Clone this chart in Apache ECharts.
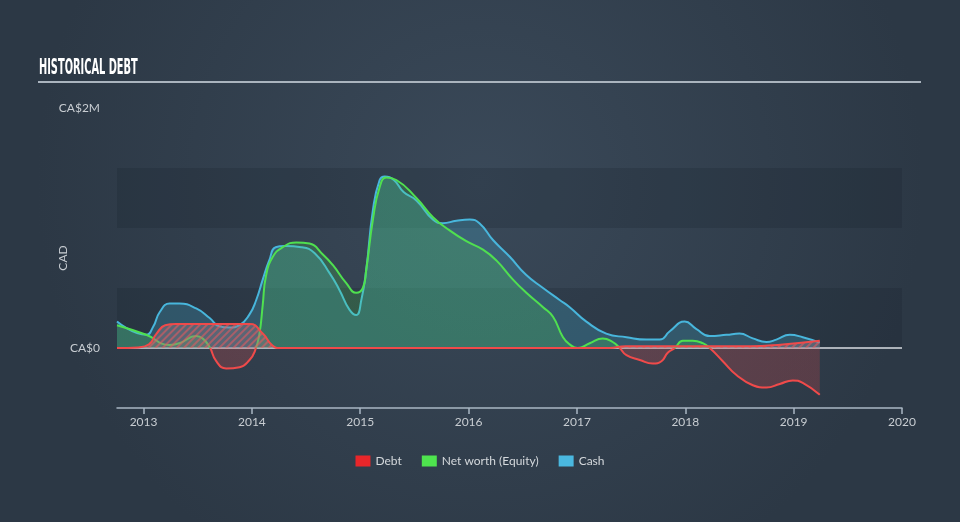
<!DOCTYPE html>
<html>
<head>
<meta charset="utf-8">
<script src="https://cdn.jsdelivr.net/npm/echarts@6/dist/echarts.min.js"></script>
<style>html,body{margin:0;padding:0;background:#313e4c;}#c{width:960px;height:522px;}</style>
</head>
<body>
<div id="c"></div>
<script>
// values in CA$ millions, x in decimal years
const yearTicks = [2013, 2014, 2015, 2016, 2017, 2018, 2019, 2020];
const seriesNames = ['Debt', 'Net worth (Equity)', 'Cash'];

const debtX = [2012.755, 2012.95, 2013.05, 2013.12, 2013.2, 2013.3, 2013.98, 2014.1, 2014.19, 2014.26, 2017.3, 2017.45, 2018.6, 2018.9, 2019.241];
const debtY = [0, 0.005, 0.03, 0.12, 0.19, 0.2, 0.2, 0.12, 0.02, 0, 0, 0.015, 0.015, 0.03, 0.06];

const equityX = [2012.755, 2013.025, 2013.24, 2013.332, 2013.486, 2013.545, 2013.609, 2013.671, 2013.763, 2013.886, 2013.978, 2014.03, 2014.07, 2014.10, 2014.13, 2014.193, 2014.285, 2014.41, 2014.532, 2014.655, 2014.748, 2014.871, 2014.963, 2015.024, 2015.055, 2015.117, 2015.179, 2015.24, 2015.333, 2015.518, 2015.671, 2015.825, 2015.979, 2016.133, 2016.256, 2016.41, 2016.533, 2016.687, 2016.779, 2016.871, 2016.933, 2017.007, 2017.118, 2017.238, 2017.33, 2017.395, 2017.457, 2017.58, 2017.7, 2017.78, 2017.838, 2017.903, 2017.977, 2018.069, 2018.161, 2018.226, 2018.346, 2018.472, 2018.623, 2018.749, 2018.872, 2018.992, 2019.084, 2019.241];
const equityY = [0.19, 0.11, 0.025, 0.04, 0.10, 0.08, 0.01, -0.11, -0.17, -0.16, -0.10, -0.02, 0.12, 0.36, 0.60, 0.76, 0.84, 0.88, 0.87, 0.78, 0.69, 0.54, 0.46, 0.50, 0.65, 1.07, 1.34, 1.42, 1.40, 1.25, 1.09, 0.98, 0.89, 0.82, 0.73, 0.57, 0.46, 0.34, 0.26, 0.09, 0.03, 0.0, 0.04, 0.08, 0.05, 0.0, -0.06, -0.10, -0.13, -0.11, -0.04, 0.0, 0.06, 0.06, 0.04, 0.0, -0.11, -0.225, -0.31, -0.33, -0.30, -0.27, -0.29, -0.39];

const cashX = [2012.755, 2013.025, 2013.09, 2013.15, 2013.24, 2013.33, 2013.486, 2013.61, 2013.70, 2013.79, 2013.886, 2013.978, 2014.04, 2014.10, 2014.16, 2014.22, 2014.31, 2014.456, 2014.58, 2014.72, 2014.81, 2014.90, 2014.963, 2015.01, 2015.055, 2015.117, 2015.179, 2015.225, 2015.31, 2015.40, 2015.518, 2015.67, 2015.76, 2015.887, 2016.01, 2016.10, 2016.225, 2016.38, 2016.53, 2016.687, 2016.84, 2016.933, 2017.087, 2017.27, 2017.457, 2017.64, 2017.765, 2017.857, 2017.995, 2018.10, 2018.226, 2018.38, 2018.50, 2018.623, 2018.749, 2018.84, 2018.964, 2019.084, 2019.241];
const cashY = [0.22, 0.11, 0.18, 0.30, 0.37, 0.37, 0.33, 0.25, 0.18, 0.17, 0.19, 0.28, 0.40, 0.57, 0.73, 0.84, 0.85, 0.84, 0.79, 0.62, 0.48, 0.32, 0.275, 0.40, 0.65, 1.15, 1.40, 1.43, 1.40, 1.30, 1.23, 1.07, 1.04, 1.06, 1.07, 1.04, 0.90, 0.76, 0.61, 0.50, 0.40, 0.34, 0.22, 0.12, 0.09, 0.07, 0.07, 0.14, 0.22, 0.16, 0.10, 0.11, 0.12, 0.08, 0.05, 0.07, 0.11, 0.09, 0.045];

const zip = (xs, ys) => xs.map((x, i) => [x, ys[i]]);

const RED = '#f04a4a', GREEN = '#4fe04f', BLUE = '#48b6dc';
const chart = echarts.init(document.getElementById('c'), null, {renderer: 'canvas'});
const font = 'Lato, "Open Sans", sans-serif';

chart.setOption({
  animation: false,
  backgroundColor: {type: 'radial', x: 0.5, y: 0.35, r: 0.85,
    colorStops: [{offset: 0, color: '#3a4959'}, {offset: 1, color: '#2c3845'}]},
  grid: {left: 117, right: 58, top: 108, bottom: 114},
  graphic: [
    {type: 'text', left: 39, top: 58, scaleX: 0.52,
      style: {text: 'HISTORICAL DEBT', fill: '#ffffff', font: 'bold 21px "Liberation Sans Narrow", "DejaVu Sans Condensed", sans-serif'}},
    {type: 'line', shape: {x1: 38, y1: 82, x2: 921, y2: 82}, style: {stroke: '#aab4be', lineWidth: 2}}
  ],
  legend: {
    left: 'center', top: 450, itemWidth: 15, itemHeight: 11, itemGap: 20, icon: 'rect',
    textStyle: {color: '#d4d8dc', fontSize: 12, fontFamily: font},
    data: [
      {name: seriesNames[0], itemStyle: {color: '#e8262a', decal: 'none'}},
      {name: seriesNames[1], itemStyle: {color: '#4ee44e'}},
      {name: seriesNames[2], itemStyle: {color: '#4ab8e0'}}
    ]
  },
  xAxis: {
    type: 'value', min: 2012.755, max: 2020,
    axisLine: {show: true, onZero: false, lineStyle: {color: '#a9b7c4', width: 1.5}},
    axisTick: {show: true, length: 6, lineStyle: {color: '#a9b7c4', width: 1.5}, customValues: yearTicks},
    axisLabel: {color: '#c8cdd2', fontSize: 12, fontFamily: font, margin: 8, customValues: yearTicks,
      formatter: v => String(Math.round(v))},
    splitLine: {show: false}
  },
  yAxis: {
    type: 'value', min: -0.5, max: 2, interval: 0.5,
    name: 'CAD', nameLocation: 'middle', nameRotate: 90, nameGap: 48, nameMoveOverlap: false,
    nameTextStyle: {color: '#c8cdd2', fontSize: 12, fontFamily: font},
    axisLine: {show: false}, axisTick: {show: false},
    axisLabel: {color: '#c8cdd2', fontSize: 12, fontFamily: font, margin: 17,
      formatter: v => v === 0 ? 'CA$0' : (v === 2 ? 'CA$2M' : '')},
    splitLine: {show: true, lineStyle: {color: ['rgba(0,0,0,0)', '#d8dde2', 'rgba(0,0,0,0)', 'rgba(0,0,0,0)', 'rgba(0,0,0,0)', 'rgba(0,0,0,0)'], width: 1.5}},
    splitArea: {show: true, areaStyle: {color: ['rgba(0,0,0,0)', 'rgba(18,28,40,0.2)']}}
  },
  series: [
    {
      name: seriesNames[0], type: 'line', smooth: 0.5, showSymbol: false, z: 4,
      data: zip(debtX, debtY),
      lineStyle: {color: RED, width: 2},
      itemStyle: {color: RED, decal: {symbol: 'rect', symbolSize: 1, dashArrayX: [1, 0], dashArrayY: [2, 3], rotation: -Math.PI / 4, color: 'rgba(235,90,95,0.55)'}},
      areaStyle: {color: 'rgba(140,120,130,0.45)', opacity: 1}
    },
    {
      name: seriesNames[1], type: 'line', smooth: 0.5, showSymbol: false, z: 3,
      data: zip(equityX, equityY),
      lineStyle: {color: GREEN, width: 2},
      itemStyle: {color: GREEN},
      areaStyle: {color: GREEN, opacity: 0.2}
    },
    {
      name: seriesNames[2], type: 'line', smooth: 0.5, showSymbol: false, z: 2,
      data: zip(cashX, cashY),
      lineStyle: {color: BLUE, width: 2},
      itemStyle: {color: BLUE},
      areaStyle: {color: BLUE, opacity: 0.25}
    }
  ]
});

// colour equity red below zero, green above: gradient split at the pixel of y = 0
const zeroY = chart.convertToPixel({yAxisIndex: 0}, 0);
const H = 522;
const off = zeroY / H;
const split = (above, below) => ({type: 'linear', x: 0, y: 0, x2: 0, y2: H, global: true,
  colorStops: [{offset: 0, color: above}, {offset: off, color: above}, {offset: off, color: below}, {offset: 1, color: below}]});
chart.setOption({
  series: [{}, {
    lineStyle: {color: split(GREEN, RED)},
    areaStyle: {color: split('rgba(79,224,79,0.2)', 'rgba(240,74,74,0.22)'), opacity: 1}
  }, {}]
});
</script>
</body>
</html>
